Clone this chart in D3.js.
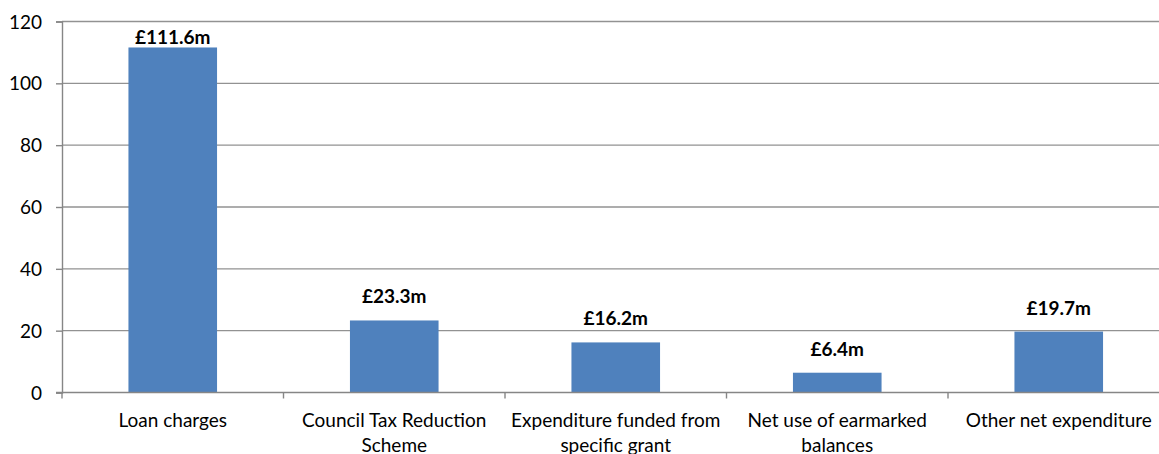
<!DOCTYPE html>
<html>
<head>
<meta charset="utf-8">
<script src="https://cdn.jsdelivr.net/npm/d3@7/dist/d3.min.js"></script>
<style>
  html, body { margin: 0; padding: 0; background: #fff; }
  svg { display: block; }
  .axis-label { font-family: Lato, "Open Sans", sans-serif; font-size: 19px; fill: #000; }
  .value-label { font-family: Lato, "Open Sans", sans-serif; font-size: 19px; font-weight: bold; fill: #000; }
</style>
</head>
<body>
<svg id="chart" width="1159" height="454"></svg>
<script>
// Spending categories and amounts (£ millions)
const categories = [
  "Loan charges",
  "Council Tax Reduction Scheme",
  "Expenditure funded from specific grant",
  "Net use of earmarked balances",
  "Other net expenditure"
];
const values = [111.6, 23.3, 16.2, 6.4, 19.7];
const valueLabels = ["£111.6m", "£23.3m", "£16.2m", "£6.4m", "£19.7m"];
const yTicks = [0, 20, 40, 60, 80, 100, 120];

const svg = d3.select("#chart");
const plot = { left: 62, right: 1169.5, top: 21.5, bottom: 392.5 };

const x = d3.scaleBand()
  .domain(categories)
  .range([plot.left, plot.right])
  .paddingInner(0.6)
  .paddingOuter(0.3);
const step = x.step();

const y = d3.scaleLinear().domain([0, 120]).range([plot.bottom, plot.top]);

// Horizontal gridlines
svg.append("g")
  .selectAll("line")
  .data(yTicks.filter(t => t > 0))
  .join("line")
  .attr("x1", plot.left).attr("x2", plot.right)
  .attr("y1", d => y(d)).attr("y2", d => y(d))
  .attr("stroke", "#929292")
  .attr("stroke-width", 1.4);

// Bars
svg.append("g")
  .selectAll("rect")
  .data(categories)
  .join("rect")
  .attr("x", d => x(d))
  .attr("width", x.bandwidth())
  .attr("y", (d, i) => y(values[i]))
  .attr("height", (d, i) => y(0) - y(values[i]))
  .attr("fill", "#4F81BD");

// Y axis
const yAxis = d3.axisLeft(y).tickValues(yTicks).tickSize(6).tickPadding(14).tickFormat(d3.format("d"));
const gy = svg.append("g").attr("transform", `translate(${plot.left},0)`).call(yAxis);
gy.select(".domain").attr("stroke", "#868686").attr("stroke-width", 1.4);
gy.selectAll(".tick line").attr("stroke", "#868686").attr("stroke-width", 1.4);
gy.selectAll(".tick text").attr("class", "axis-label").attr("dy", "0.35em");

// X axis baseline and category separators
const gx = svg.append("g");
gx.append("line")
  .attr("x1", plot.left - 6).attr("x2", plot.right)
  .attr("y1", y(0)).attr("y2", y(0))
  .attr("stroke", "#868686").attr("stroke-width", 1.4);
const boundaries = categories.map(c => x(c) - step * 0.3).concat([x(categories[categories.length - 1]) + x.bandwidth() + step * 0.3]);
gx.selectAll("line.sep")
  .data(boundaries)
  .join("line")
  .attr("class", "sep")
  .attr("x1", d => d).attr("x2", d => d)
  .attr("y1", y(0)).attr("y2", y(0) + 6)
  .attr("stroke", "#868686").attr("stroke-width", 1.4);

// Category labels, wrapped to the width of each category slot
const catText = gx.selectAll("text.cat")
  .data(categories)
  .join("text")
  .attr("class", "axis-label cat")
  .attr("text-anchor", "middle")
  .attr("x", d => x(d) + x.bandwidth() / 2)
  .attr("y", y(0) + 34);

catText.each(function(d) {
  const t = d3.select(this);
  const words = d.split(" ");
  const cx = +t.attr("x");
  let line = [];
  let tspan = t.append("tspan").attr("x", cx).attr("dy", 0);
  words.forEach(w => {
    line.push(w);
    tspan.text(line.join(" "));
    if (tspan.node().getComputedTextLength() > step + 4 && line.length > 1) {
      line.pop();
      tspan.text(line.join(" "));
      line = [w];
      tspan = t.append("tspan").attr("x", cx).attr("dy", 25).text(w);
    }
  });
});

// Value labels above bars, kept inside the plot area
svg.append("g")
  .selectAll("text")
  .data(categories)
  .join("text")
  .attr("class", "value-label")
  .attr("text-anchor", "middle")
  .attr("x", d => x(d) + x.bandwidth() / 2)
  .attr("y", (d, i) => Math.max(y(values[i]) - 17, plot.top + 22))
  .text((d, i) => valueLabels[i]);
</script>
</body>
</html>
